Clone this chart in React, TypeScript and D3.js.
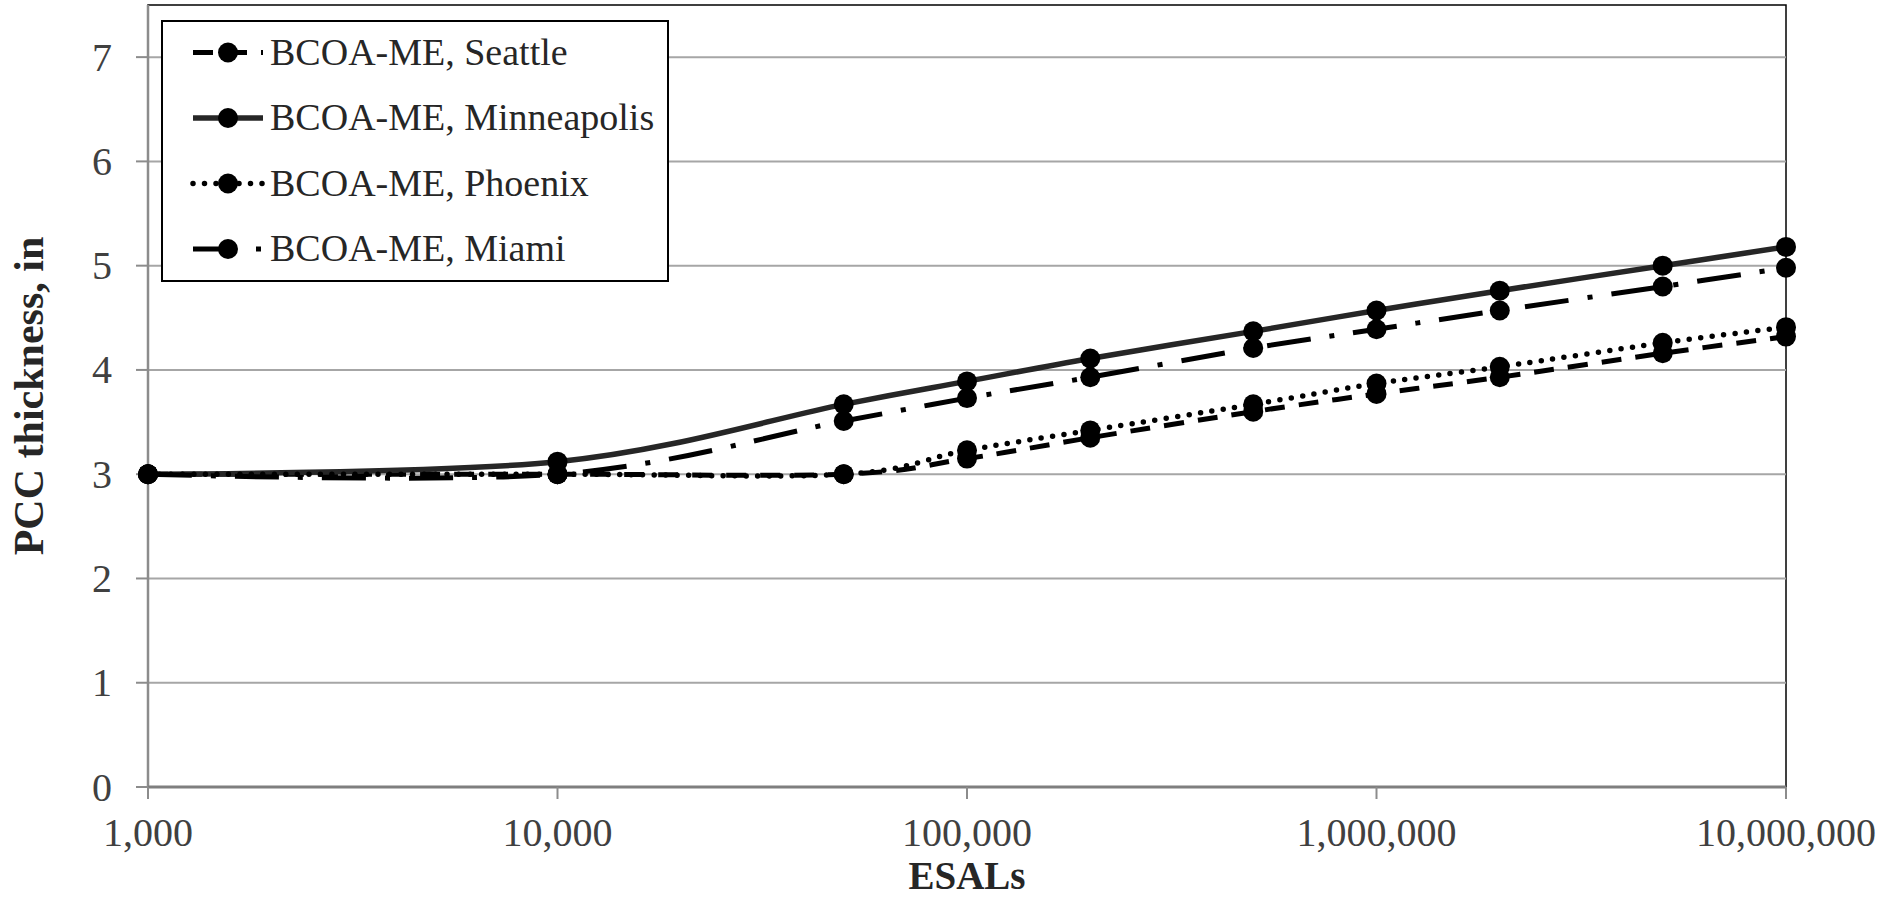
import * as d3 from "d3";

// ESAL levels on the x axis
const esals = [1000, 10000, 50000, 100000, 200000, 500000, 1000000, 2000000, 5000000, 10000000];

// PCC thickness (in) per city
const seattle = [3.0, 3.0, 3.0, 3.15, 3.35, 3.6, 3.77, 3.93, 4.16, 4.32];
const minneapolis = [3.0, 3.12, 3.67, 3.89, 4.11, 4.37, 4.57, 4.76, 5.0, 5.18];
const phoenix = [3.0, 3.0, 3.0, 3.23, 3.42, 3.67, 3.87, 4.03, 4.26, 4.41];
const miami = [3.0, 3.0, 3.51, 3.73, 3.93, 4.21, 4.39, 4.57, 4.8, 4.98];

const xTicks = [1000, 10000, 100000, 1000000, 10000000];
const yTicks = [0, 1, 2, 3, 4, 5, 6, 7];

const seriesNames = ["BCOA-ME, Seattle", "BCOA-ME, Minneapolis", "BCOA-ME, Phoenix", "BCOA-ME, Miami"];

const styles = [
  { stroke: "#000", width: 5, dash: "20 14", cap: "butt" },
  { stroke: "#262626", width: 5.5, dash: "none", cap: "butt" },
  { stroke: "#000", width: 5.5, dash: "0 11.5", cap: "round" },
  { stroke: "#000", width: 5, dash: "44 19 5 19", cap: "butt" },
];

const font = "'Liberation Serif', 'Times New Roman', serif";

export default function App() {
  const width = 1891;
  const height = 898;
  const left = 148;
  const right = 1786;
  const top = 5;
  const bottom = 787;

  const xScale = d3.scaleLog().domain([1000, 10000000]).range([left, right]);
  const yScale = d3.scaleLinear().domain([0, 7.5]).range([bottom, top]);
  const fmt = d3.format(",");

  const allSeries = [seattle, minneapolis, phoenix, miami];

  const line = d3
    .line<number>()
    .x((d, i) => xScale(esals[i]))
    .y((d) => yScale(d))
    .curve(d3.curveCardinal.tension(0));

  const legendX = 162;
  const legendY = 21;
  const rowGap = 65.5;

  return (
    <div style={{ position: "absolute", left: 0, top: 0 }}>
      <svg width={width} height={height} style={{ display: "block", background: "#fff" }}>
        {/* plot area border */}
        <rect x={left} y={top} width={right - left} height={bottom - top} fill="#fff" stroke="#000" strokeWidth={1.5} />

        {/* gridlines */}
        {yTicks.filter((v) => v > 0).map((v) => (
          <line key={"g" + v} x1={left} x2={right} y1={yScale(v)} y2={yScale(v)} stroke="#a6a6a6" strokeWidth={2} />
        ))}

        {/* y axis */}
        <line x1={left} x2={left} y1={top} y2={bottom} stroke="#8c8c8c" strokeWidth={2.5} />
        {yTicks.map((v) => (
          <g key={"y" + v}>
            <line x1={left - 12} x2={left} y1={yScale(v)} y2={yScale(v)} stroke="#8c8c8c" strokeWidth={2} />
            <text x={112} y={yScale(v) + 13.5} fontSize={40} fontFamily={font} fill="#404040" textAnchor="end">
              {v}
            </text>
          </g>
        ))}

        {/* x axis */}
        <line x1={left} x2={right} y1={bottom} y2={bottom} stroke="#7f7f7f" strokeWidth={3} />
        {xTicks.map((v) => (
          <g key={"x" + v}>
            <line x1={xScale(v)} x2={xScale(v)} y1={bottom} y2={bottom + 12} stroke="#8c8c8c" strokeWidth={2} />
            <text x={xScale(v)} y={846} fontSize={40} fontFamily={font} fill="#404040" textAnchor="middle">
              {fmt(v)}
            </text>
          </g>
        ))}

        {/* series */}
        {allSeries.map((s, k) => (
          <g key={"s" + k}>
            <path
              d={line(s) || ""}
              fill="none"
              stroke={styles[k].stroke}
              strokeWidth={styles[k].width}
              strokeDasharray={styles[k].dash}
              strokeLinecap={styles[k].cap as any}
            />
            {s.map((v, i) => (
              <circle key={i} cx={xScale(esals[i])} cy={yScale(v)} r={10} fill="#000" />
            ))}
          </g>
        ))}

        {/* legend */}
        <rect x={legendX} y={legendY} width={506} height={260} fill="#fff" stroke="#000" strokeWidth={2} />
        {seriesNames.map((name, k) => {
          const cy = legendY + 31.5 + k * rowGap;
          return (
            <g key={"l" + k}>
              <line
                x1={193}
                x2={263}
                y1={cy}
                y2={cy}
                stroke={styles[k].stroke}
                strokeWidth={styles[k].width}
                strokeDasharray={styles[k].dash}
                strokeLinecap={styles[k].cap as any}
              />
              <circle cx={228} cy={cy} r={10} fill="#000" />
              <text x={270} y={cy + 12} fontSize={38} fontFamily={font} fill="#262626">
                {name}
              </text>
            </g>
          );
        })}

        {/* axis titles */}
        <text x={(left + right) / 2} y={889} fontSize={39} fontWeight="bold" fontFamily={font} fill="#262626" textAnchor="middle">
          ESALs
        </text>
        <text
          transform={`translate(43, ${(top + bottom) / 2}) rotate(-90)`}
          fontSize={42}
          fontWeight="bold"
          fontFamily={font}
          fill="#262626"
          textAnchor="middle"
        >
          PCC thickness, in
        </text>
      </svg>
    </div>
  );
}
